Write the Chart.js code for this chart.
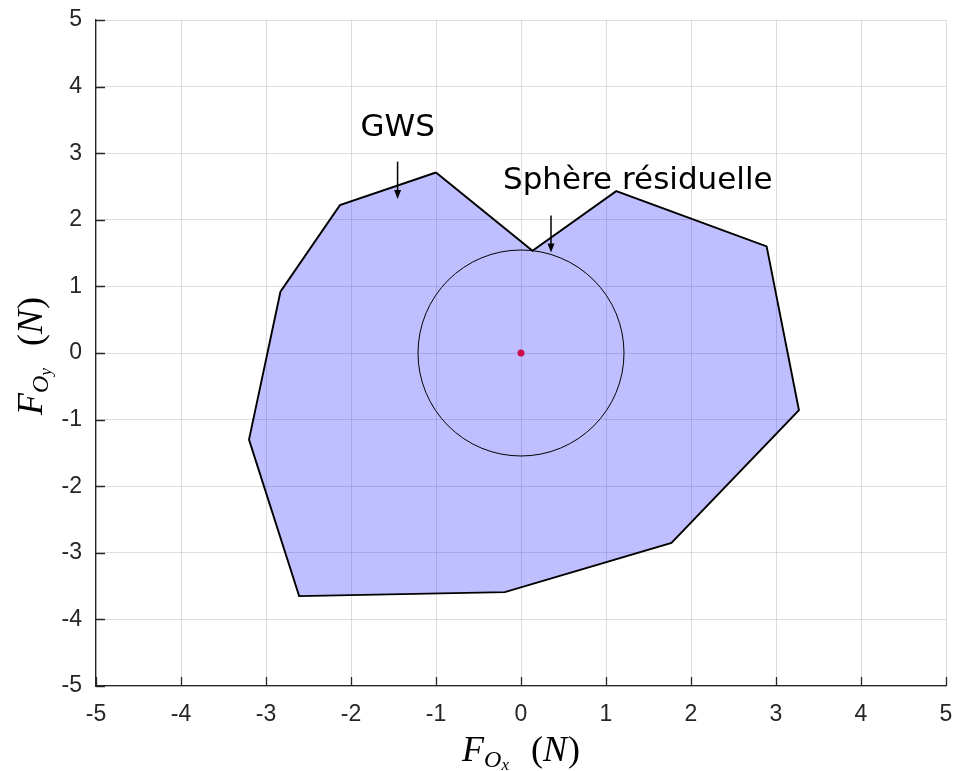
<!DOCTYPE html>
<html>
<head>
<meta charset="utf-8">
<script src="https://cdn.jsdelivr.net/npm/chart.js@4.4.1/dist/chart.umd.min.js"></script>
<style>
  html, body { margin: 0; padding: 0; background: #ffffff; }
  #wrap { width: 954px; height: 771px; }
</style>
</head>
<body>
<div id="wrap"><canvas id="c" width="954" height="771"></canvas></div>
<script>
// ---- Data ----
const gwsX = [-1.00, -2.13, -2.83, -3.20, -2.61, -0.19, 1.77, 3.27, 2.89, 1.12, 0.135, -1.00];
const gwsY = [ 2.71,  2.22,  0.92, -1.30, -3.65, -3.59, -2.85, -0.86, 1.60, 2.43, 1.535, 2.71];
const centerX = [0];
const centerY = [0];
const tickValues = [-5, -4, -3, -2, -1, 0, 1, 2, 3, 4, 5];
const tickLabels = ['-5', '-4', '-3', '-2', '-1', '0', '1', '2', '3', '4', '5'];
const annotationTexts = ['GWS', 'Sphère résiduelle'];
const annotationTextX = [-1.45, 1.374];
const annotationTextY = [3.26, 2.46];
const arrowX = [-1.452, 0.353];
const arrowFromY = [2.873, 2.063];
const arrowToY = [2.313, 1.508];

const gwsPoints = gwsX.map((x, i) => ({ x: x, y: gwsY[i] }));
const centerPoints = centerX.map((x, i) => ({ x: x, y: centerY[i] }));

const AXIS_COLOR = '#262626';

// Inward ticks
const inwardTicks = {
  id: 'inwardTicks',
  afterDatasetsDraw(chart) {
    const ctx = chart.ctx;
    const xs = chart.scales.x, ys = chart.scales.y;
    const a = chart.chartArea;
    ctx.save();
    ctx.strokeStyle = AXIS_COLOR;
    ctx.lineWidth = 1.3;
    ctx.beginPath();
    tickValues.forEach(v => {
      const px = Math.round(xs.getPixelForValue(v)) + 0.5;
      ctx.moveTo(px, a.bottom);
      ctx.lineTo(px, a.bottom - 9);
      const py = Math.round(ys.getPixelForValue(v)) + 0.5;
      ctx.moveTo(a.left, py);
      ctx.lineTo(a.left + 9, py);
    });
    ctx.stroke();
    ctx.restore();
  }
};

// Annotations: text + arrows
const annotations = {
  id: 'annotations',
  afterDatasetsDraw(chart) {
    const ctx = chart.ctx;
    const xs = chart.scales.x, ys = chart.scales.y;
    ctx.save();
    ctx.fillStyle = '#000';
    ctx.font = '31px "DejaVu Sans"';
    ctx.textAlign = 'center';
    ctx.textBaseline = 'alphabetic';
    annotationTexts.forEach((t, i) => {
      ctx.fillText(t, xs.getPixelForValue(annotationTextX[i]), ys.getPixelForValue(annotationTextY[i]));
    });
    ctx.strokeStyle = '#000';
    ctx.lineWidth = 1.5;
    arrowX.forEach((ax, i) => {
      const px = xs.getPixelForValue(ax);
      const y0 = ys.getPixelForValue(arrowFromY[i]);
      const y1 = ys.getPixelForValue(arrowToY[i]);
      ctx.beginPath();
      ctx.moveTo(px, y0);
      ctx.lineTo(px, y1 - 6);
      ctx.stroke();
      ctx.beginPath();
      ctx.moveTo(px, y1);
      ctx.lineTo(px - 3.5, y1 - 9);
      ctx.lineTo(px + 3.5, y1 - 9);
      ctx.closePath();
      ctx.fill();
    });
    ctx.restore();
  }
};

// Axis titles with LaTeX-like subscripts
function drawRuns(ctx, runs) {
  let total = 0;
  runs.forEach(r => { ctx.font = r.font; r.w = ctx.measureText(r.text).width; total += r.w + (r.gap || 0); });
  let x = -total / 2;
  runs.forEach(r => {
    ctx.font = r.font;
    ctx.fillText(r.text, x, r.dy || 0);
    x += r.w + (r.gap || 0);
  });
}
const axisTitles = {
  id: 'axisTitles',
  afterDraw(chart) {
    const ctx = chart.ctx;
    const a = chart.chartArea;
    const serif = '"Liberation Serif"';
    const makeRuns = (sub) => [
      { text: 'F', font: 'italic 36px ' + serif, gap: 0 },
      { text: 'O', font: 'italic 24px ' + serif, dy: 6, gap: 0 },
      { text: sub, font: 'italic 17px ' + serif, dy: 9, gap: 22 },
      { text: '(', font: '36px ' + serif },
      { text: 'N', font: 'italic 36px ' + serif, gap: 1 },
      { text: ')', font: '36px ' + serif }
    ];
    ctx.save();
    ctx.fillStyle = '#000';
    ctx.textBaseline = 'alphabetic';
    ctx.textAlign = 'left';
    ctx.translate((a.left + a.right) / 2, 761);
    drawRuns(ctx, makeRuns('x'));
    ctx.restore();

    ctx.save();
    ctx.fillStyle = '#000';
    ctx.textBaseline = 'alphabetic';
    ctx.textAlign = 'left';
    ctx.translate(42, (a.top + a.bottom) / 2 + 3);
    ctx.rotate(-Math.PI / 2);
    drawRuns(ctx, makeRuns('y'));
    ctx.restore();
  }
};

const tickFont = { family: '"Liberation Sans", Arial, sans-serif', size: 23 };

new Chart(document.getElementById('c'), {
  type: 'scatter',
  data: {
    datasets: [
      {
        label: 'GWS',
        data: gwsPoints,
        showLine: true,
        fill: 'shape',
        backgroundColor: 'rgba(0,0,255,0.25)',
        borderColor: '#000',
        borderWidth: 1.9,
        pointRadius: 0,
        tension: 0,
        order: 3
      },
      {
        label: 'Sphère résiduelle',
        data: centerPoints,
        showLine: false,
        pointRadius: 103,
        pointHoverRadius: 103,
        pointBackgroundColor: 'rgba(0,0,0,0)',
        pointBorderColor: '#000',
        pointBorderWidth: 1,
        order: 2
      },
      {
        label: 'Centre',
        data: centerPoints,
        showLine: false,
        pointRadius: 3.5,
        pointBackgroundColor: '#cc0a4a',
        pointBorderColor: '#cc0a4a',
        pointBorderWidth: 0,
        order: 1
      }
    ]
  },
  options: {
    responsive: false,
    animation: false,
    events: [],
    layout: { autoPadding: false, padding: { left: 0, right: 8, top: 20, bottom: 0 } },
    plugins: { legend: { display: false }, tooltip: { enabled: false } },
    scales: {
      x: {
        type: 'linear',
        min: -5, max: 5,
        afterFit: s => { s.height = 85; s.paddingRight = 0; s.paddingLeft = 0; },
        afterBuildTicks: s => { s.ticks = tickValues.map(v => ({ value: v })); },
        grid: { color: 'rgba(0,0,0,0.13)', lineWidth: 1, drawTicks: false },
        border: { color: AXIS_COLOR, width: 1.3 },
        ticks: {
          color: AXIS_COLOR, font: tickFont, padding: 15, maxRotation: 0,
          callback: (v) => tickLabels[tickValues.indexOf(v)]
        }
      },
      y: {
        type: 'linear',
        min: -5, max: 5,
        afterFit: s => { s.width = 96; s.paddingTop = 0; s.paddingBottom = 0; },
        afterBuildTicks: s => { s.ticks = tickValues.map(v => ({ value: v })); },
        grid: { color: 'rgba(0,0,0,0.13)', lineWidth: 1, drawTicks: false },
        border: { color: AXIS_COLOR, width: 1.3 },
        ticks: {
          color: AXIS_COLOR, font: tickFont, padding: 14,
          callback: (v) => tickLabels[tickValues.indexOf(v)]
        }
      }
    }
  },
  plugins: [inwardTicks, annotations, axisTitles]
});
</script>
</body>
</html>
